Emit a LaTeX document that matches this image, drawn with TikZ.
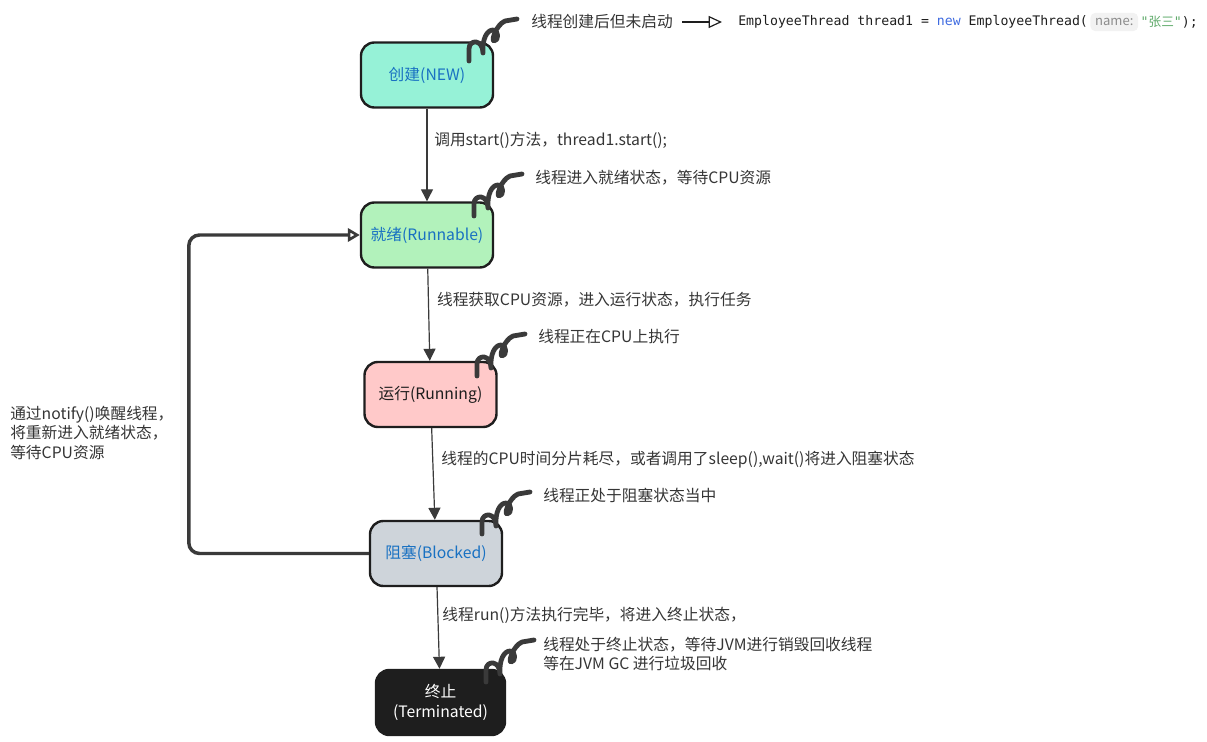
\documentclass[tikz,border=0pt]{standalone}
\usepackage{fontspec}
\setmainfont{Noto Sans CJK SC}
\setmonofont{DejaVu Sans Mono}
\newfontfamily\cjk{Noto Sans CJK SC}
\usetikzlibrary{arrows.meta,positioning}
\definecolor{ink}{HTML}{1E1E1E}
\definecolor{linegray}{HTML}{3A3A3A}
\definecolor{notegray}{HTML}{353535}
\definecolor{labelblue}{HTML}{1971C2}
\definecolor{newfill}{HTML}{96F2D7}
\definecolor{readyfill}{HTML}{B2F2BB}
\definecolor{runfill}{HTML}{FFC9C9}
\definecolor{blockfill}{HTML}{CED4DA}
\definecolor{kwblue}{HTML}{3F6BE0}
\definecolor{strgreen}{HTML}{5FAA6A}
\definecolor{hintgray}{HTML}{8C8C8C}
\definecolor{hintbg}{HTML}{F2F2F2}

\begin{document}
\begin{tikzpicture}[x=0.75pt,y=-0.75pt,
  state/.style={draw=ink,line width=1.8pt,rounded corners=10pt,minimum width=99pt,minimum height=48.75pt,align=center,font=\fontsize{11.8}{15.5}\selectfont},
  flow/.style={draw=linegray,line width=0.9pt,-{Triangle[length=9pt,width=9pt]}},
  back/.style={draw=linegray,line width=2.6pt,rounded corners=8pt,-{Triangle[open,length=9pt,width=10pt,line width=2pt]}},
  note/.style={anchor=west,inner sep=0pt,text=notegray,align=left,font=\fontsize{11.8}{14.8}\selectfont},
  code/.style={anchor=west,inner sep=0pt,text=ink,font=\ttfamily\fontsize{9.9}{12}\selectfont},
  curl/.pic={\draw[linegray,line width=3.6pt,line cap=round,line join=round] (0,0) -- (0,-12) .. controls (0,-22) and (14,-22) .. (14,-8) .. controls (13,-22) and (18,-31) .. (24,-31) .. controls (30,-31) and (30,-20) .. (25,-20) .. controls (22,-20) and (27,-36) .. (36,-40) -- (48,-42);}]
\useasboundingbox (0,0) rectangle (1207,742);

\node [state,fill=newfill,text=labelblue] (new) at (427,75) {创建(NEW)};
\node [state,fill=readyfill,text=labelblue] (runnable) at (427,235) {就绪(Runnable)};
\node [state,fill=runfill,text=ink] (running) at (430.5,394.5) {运行(Running)};
\node [state,fill=blockfill,text=labelblue] (blocked) at (436,553.5) {阻塞(Blocked)};
\node [state,fill=ink,text=white,minimum width=96.75pt] (terminated) at (440.5,702.5) {终止\\(Terminated)};

\draw[flow] (new) -- (runnable) node[note,pos=0.34,xshift=5pt] {调用start()方法，thread1.start();};
\draw[flow] (runnable) -- (running) node[note,pos=0.34,xshift=6pt] {线程获取CPU资源，进入运行状态，执行任务};
\draw[flow] (running) -- (blocked) node[note,pos=0.34,xshift=6pt] {线程的CPU时间分片耗尽，或者调用了sleep(),wait()将进入阻塞状态};
\draw[flow] (blocked) -- (terminated) node[note,pos=0.35,xshift=3pt] {线程run()方法执行完毕，将进入终止状态，};
\draw[back] (blocked.west) -- ++(-180,0) |- (runnable.west);
\node [note] (wakeup) at (10,433) {通过notify()唤醒线程，\\将重新进入就绪状态，\\等待CPU资源};

\pic at (469,61) {curl};
\pic at (474,216) {curl};
\pic at (477,376) {curl};
\pic at (482,534) {curl};
\pic at (486,682) {curl};
\node [note] (newnote) at (531,22) {线程创建后但未启动};
\node [note] (readynote) at (535,178) {线程进入就绪状态，等待CPU资源};
\node [note] (runnote) at (538,337) {线程正在CPU上执行};
\node [note] (blocknote) at (543,495) {线程正处于阻塞状态当中};
\node [note] (endnote) at (543,654) {线程处于终止状态，等待JVM进行销毁回收线程\\等在JVM GC 进行垃圾回收};

\node [code] (codeline) at (738,22) {EmployeeThread thread1 = \textcolor{kwblue}{new} EmployeeThread(};
\node [fill=hintbg,rounded corners=3.5pt,inner xsep=3.5pt,inner ysep=4pt,text=hintgray,font=\fontsize{9.8}{11}\selectfont,right=1.5pt of codeline] (hint) {name:};
\node [code,right=1.5pt of hint] (args) {\textcolor{strgreen}{"{\cjk\fontsize{9.5}{12}\selectfont 张三}"});};
\draw[draw=ink,line width=0.9pt,-{Triangle[open,length=10pt,width=9pt]}] ([xshift=7pt]newnote.east) -- ([xshift=-12pt]codeline.west);
\end{tikzpicture}
\end{document}
